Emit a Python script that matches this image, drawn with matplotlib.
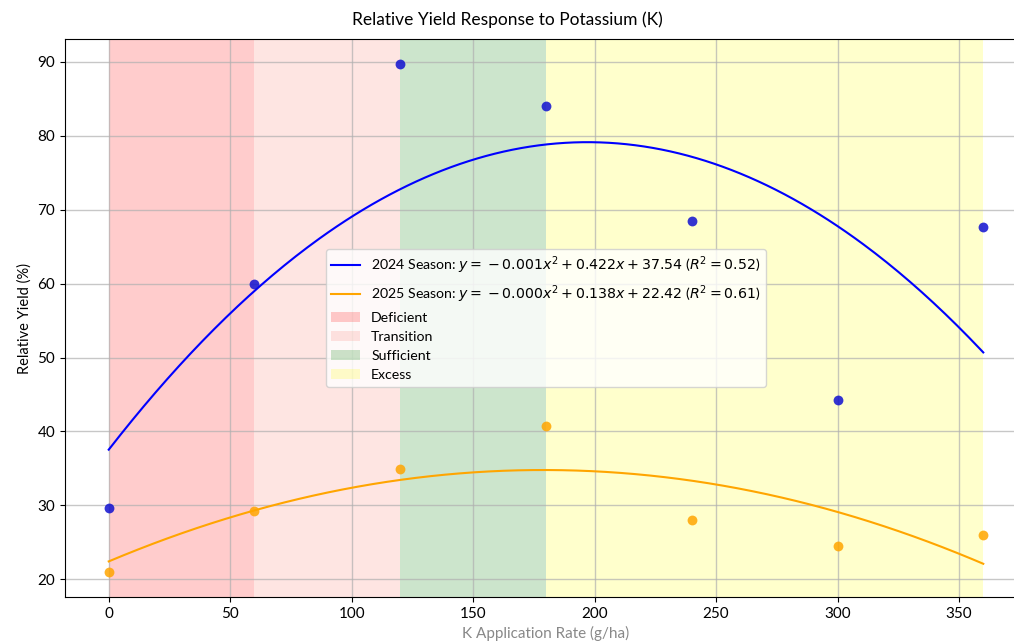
import numpy as np
import matplotlib
matplotlib.use("Agg")
import matplotlib.pyplot as plt

plt.rcParams['font.family'] = ['Lato', 'DejaVu Sans']

k_rates = [0, 60, 120, 180, 240, 300, 360]
yield_2024 = [29.7, 59.9, 89.7, 84.1, 68.5, 44.2, 67.7]
yield_2025 = [21.0, 29.3, 34.9, 40.8, 28.0, 24.5, 26.0]
season_names = ["2024 Season", "2025 Season"]
zone_names = ["Deficient", "Transition", "Sufficient", "Excess"]
zone_bounds = [(0, 60), (60, 120), (120, 180), (180, 360)]
zone_colors = ["red", "salmon", "green", "yellow"]

fig = plt.figure(figsize=(10.14, 6.44), dpi=100)
ax = fig.add_axes([65/1014, 47/644, (1027-65)/1014, (597-39)/644])

for name, (a, b), c in zip(zone_names, zone_bounds, zone_colors):
    ax.axvspan(a, b, color=c, alpha=0.2, label=name, lw=0)


def sgn(v):
    return '-' if v < 0 else '+'


x = np.array(k_rates, dtype=float)
xs = np.linspace(x.min(), x.max(), 300)
for ys, col, dcol, name in [(yield_2024, "blue", "#1010d0", season_names[0]),
                            (yield_2025, "orange", "#ffa500", season_names[1])]:
    y = np.array(ys)
    coef = np.polyfit(x, y, 2)
    pred = np.polyval(coef, x)
    r2 = 1 - np.sum((y - pred)**2) / np.sum((y - y.mean())**2)
    ax.scatter(x, y, color=dcol, alpha=0.85, s=50, zorder=3, linewidths=0)
    label = (f"{name}: $y = {{}}{sgn(coef[0])} {abs(coef[0]):.3f}x^2 "
             f"{sgn(coef[1])} {abs(coef[1]):.3f}x {sgn(coef[2])} {abs(coef[2]):.2f}$ "
             f"($R^2 = {r2:.2f}$)")
    ax.plot(xs, np.polyval(coef, xs), color=col, lw=1.5, label=label, zorder=2)

ax.set_xlim(-18, 378)
ax.set_ylim(17.6, 93.1)
ax.grid(True, color='#b0b0b0', alpha=0.7, lw=1)
fig.text(0.5, 1 - 20/644, "Relative Yield Response to Potassium (K)", fontsize=12.5,
         ha='center', va='center')
ax.set_xlabel("K Application Rate (g/ha)", fontsize=11, color='#888888')
ax.set_ylabel("Relative Yield (%)", fontsize=10.5)
ax.tick_params(labelsize=11)

h, l = ax.get_legend_handles_labels()
order = [4, 5, 0, 1, 2, 3]
ax.legend([h[i] for i in order], [l[i] for i in order], loc='center', fontsize=10.2)

fig.savefig("out.png", dpi=100)
